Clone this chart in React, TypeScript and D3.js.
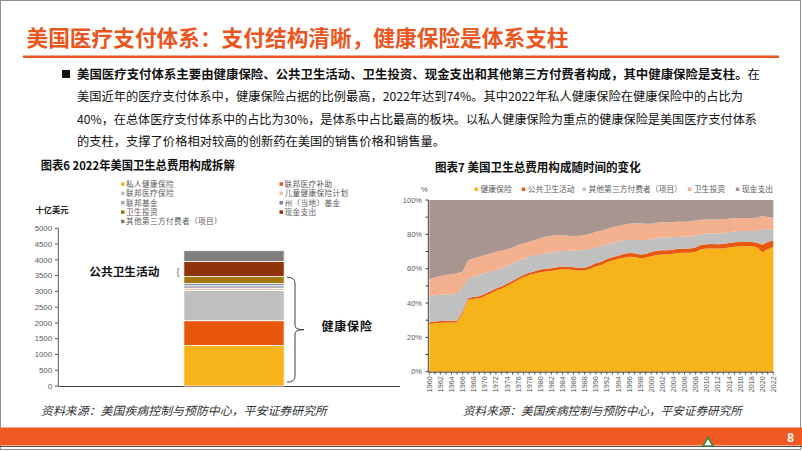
import React from 'react';
import * as d3 from 'd3';

// ---------- Left chart data (billion USD, 2022) ----------
const barCategory = ['2022'];
const barSeries = ['私人健康保险', '联邦医疗补助', '联邦医疗保险', '儿童健康保险计划', '联邦基金', '州（当地）基金', '卫生投资', '现金支出', '其他第三方付费者（项目）'];
const barValues = [1280, 790, 960, 70, 80, 65, 225, 475, 345];
const barColors = ['#F6B31A', '#E8560C', '#BFBFBF', '#F2C2A6', '#A9A6B4', '#6E86A6', '#A5780C', '#8E330A', '#7F7F7F'];
const barYTicks = [0, 500, 1000, 1500, 2000, 2500, 3000, 3500, 4000, 4500, 5000];

// ---------- Right chart data (cumulative share, %) ----------
const years = d3.range(1960, 2023);
const healthInsTop = [
  27.6, 28.2, 28.5, 28.7, 28.7, 28.7, 34.0, 41.7, 42.5, 42.7,
  44.1, 45.6, 47.2, 48.3, 49.9, 51.7, 53.4, 55.1, 56.3, 57.1,
  57.9, 58.3, 58.6, 59.2, 59.6, 59.6, 59.2, 59.0, 59.0, 60.0,
  61.2, 62.1, 63.7, 64.7, 65.6, 66.4, 67.0, 66.8, 66.0, 66.4,
  67.2, 68.0, 68.3, 68.3, 68.7, 69.1, 69.3, 69.3, 69.9, 71.3,
  71.7, 71.8, 71.7, 71.8, 72.4, 72.8, 73.0, 73.0, 73.0, 72.6,
  69.5, 71.3, 72.6,
];
const publicHealthTop = [
  28.6, 29.2, 29.5, 29.7, 29.7, 29.7, 35.0, 42.8, 43.7, 43.9,
  45.4, 46.9, 48.5, 49.6, 51.2, 53.0, 54.7, 56.4, 57.6, 58.5,
  59.5, 59.9, 60.2, 60.8, 61.2, 61.2, 60.8, 60.6, 60.6, 61.6,
  63.1, 64.0, 65.6, 66.6, 67.5, 68.6, 69.2, 69.0, 68.2, 68.6,
  69.7, 70.5, 70.8, 70.8, 71.2, 71.6, 71.8, 71.8, 72.4, 73.9,
  74.3, 74.4, 74.3, 74.4, 75.0, 75.4, 75.6, 75.6, 75.6, 75.2,
  74.0, 75.5, 76.4,
];
const otherThirdTop = [
  44.1, 44.5, 44.8, 45.0, 45.1, 45.2, 49.5, 54.4, 55.3, 56.3,
  57.3, 58.3, 59.2, 60.2, 61.6, 63.1, 64.5, 65.8, 67.0, 67.8,
  68.3, 68.9, 69.5, 70.1, 70.3, 70.5, 70.5, 70.7, 70.9, 71.5,
  72.4, 73.2, 74.2, 75.1, 75.9, 76.5, 76.7, 76.7, 76.5, 76.7,
  77.1, 77.7, 78.1, 78.3, 78.4, 78.6, 78.6, 78.8, 79.2, 80.0,
  80.4, 80.6, 80.6, 80.6, 81.2, 81.6, 81.9, 81.9, 81.9, 82.1,
  83.1, 82.9, 82.5,
];
const investmentTop = [
  53.8, 55.0, 55.7, 56.3, 56.7, 57.3, 58.3, 65.0, 66.0, 67.0,
  68.0, 68.9, 69.9, 70.5, 71.3, 72.4, 73.8, 74.8, 75.7, 76.7,
  77.7, 78.6, 79.2, 79.4, 79.4, 79.2, 79.0, 79.2, 79.6, 80.4,
  81.4, 82.1, 83.1, 84.1, 84.9, 85.6, 86.2, 86.4, 86.4, 86.2,
  86.2, 86.8, 87.0, 87.0, 87.2, 87.4, 87.4, 87.6, 88.0, 88.5,
  88.7, 88.7, 88.7, 88.9, 89.1, 89.3, 89.3, 89.5, 89.5, 89.7,
  90.7, 90.1, 89.7,
];
const cashTop = years.map(() => 100);
const areaSeries = ['健康保险', '公共卫生活动', '其他第三方付费者（项目）', '卫生投资', '现金支出'];
const areaColors = ['#F6B31A', '#E8580E', '#C0C0C0', '#F2B08E', '#A8958F'];
const areaTops = [healthInsTop, publicHealthTop, otherThirdTop, investmentTop, cashTop];
const pctTicks = [0, 10, 20, 30, 40, 50, 60, 70, 80, 90, 100];

const CJK = '"Noto Sans CJK SC", "Noto Sans", sans-serif';
const LAT = '"Liberation Sans", Arial, sans-serif';
const ORANGE = '#E9561E';

const bodyLines = [
  { parts: [{ t: '美国医疗支付体系主要由健康保险、公共卫生活动、卫生投资、现金支出和其他第三方付费者构成，其中健康保险是支柱。', b: true }, { t: '在', b: false }], w: 683 },
  { parts: [{ t: '美国近年的医疗支付体系中，健康保险占据的比例最高，2022年达到74%。其中2022年私人健康保险在健康保险中的占比为', b: false }], w: 666 },
  { parts: [{ t: '40%，在总体医疗支付体系中的占比为30%，是体系中占比最高的板块。以私人健康保险为重点的健康保险是美国医疗支付体系', b: false }], w: 680 },
  { parts: [{ t: '的支柱，支撑了价格相对较高的创新药在美国的销售价格和销售量。', b: false }], w: 368 },
];

export default function App() {
  // left chart scales
  const yL = d3.scaleLinear().domain([0, 5000]).range([386, 228.3]);
  const xL = d3.scaleBand().domain(barCategory).range([68, 400]).paddingOuter(1.155).paddingInner(0);
  const stackedBar = barValues.map((v, i) => {
    const y0 = d3.sum(barValues.slice(0, i));
    return { y0, y1: y0 + v, color: barColors[i], name: barSeries[i] };
  });
  const bx = xL('2022') as number;
  const bw = xL.bandwidth();

  // right chart scales
  const xR = d3.scaleLinear().domain([1960, 2022]).range([429.3, 773.3]);
  const yR = d3.scaleLinear().domain([0, 100]).range([371.7, 200]);
  const areas = areaTops.map((tops, i) => {
    const bottoms = i === 0 ? years.map(() => 0) : areaTops[i - 1];
    const gen = d3.area<number>()
      .x((_, j) => xR(years[j]))
      .y0((_, j) => yR(bottoms[j]))
      .y1((_, j) => yR(tops[j]));
    return gen(tops) as string;
  });

  const legendLeft = [
    { i: 0, col: 0, row: 0 }, { i: 1, col: 1, row: 0 },
    { i: 2, col: 0, row: 1 }, { i: 3, col: 1, row: 1 },
    { i: 4, col: 0, row: 2 }, { i: 5, col: 1, row: 2 },
    { i: 6, col: 0, row: 3 }, { i: 7, col: 1, row: 3 },
    { i: 8, col: 0, row: 4 },
  ];
  const legendRightX = [476, 523.3, 584, 689.3, 737.3];

  // bracket for 健康保险
  const bTop = yL(3450);
  const bBot = yL(120);
  const bMid = (bTop + bBot) / 2;
  const bracketPath = `M287,${bTop} Q295,${bTop} 295,${bTop + 6} L295,${bMid - 4} Q295,${bMid} 304,${bMid} Q295,${bMid} 295,${bMid + 4} L295,${bBot - 6} Q295,${bBot} 287,${bBot}`;

  const textX = 77;

  return (
    <svg width={802} height={451} style={{ position: 'fixed', left: 0, top: 0, background: '#fff' }} xmlns="http://www.w3.org/2000/svg">
      <rect x={0} y={0} width={802} height={451} fill="#fff" />
      <rect x={0.5} y={0.5} width={800} height={449} fill="none" stroke="#8f8f8f" strokeWidth={1} />

      {/* Title */}
      <text x={26.5} y={46} fontFamily={CJK} fontSize={21.5} fontWeight={700} fill={ORANGE} textLength={542} lengthAdjust="spacingAndGlyphs">
        美国医疗支付体系：支付结构清晰，健康保险是体系支柱
      </text>
      <rect x={23} y={55.5} width={756} height={2.5} fill={ORANGE} />

      {/* Body text */}
      <rect x={62} y={70} width={8} height={8} fill="#111" />
      {bodyLines.map((ln, k) => (
        <text key={k} x={textX} y={79 + k * 22.3} fontFamily={CJK} fontSize={12.2} fill="#111" textLength={ln.w} lengthAdjust="spacingAndGlyphs">
          {ln.parts.map((p, j) => (
            <tspan key={j} fontWeight={p.b ? 700 : 400}>{p.t}</tspan>
          ))}
        </text>
      ))}

      {/* Left chart title */}
      <text x={40.7} y={170} fontFamily={CJK} fontSize={12} fontWeight={700} fill="#111" textLength={194} lengthAdjust="spacingAndGlyphs">
        图表6 2022年美国卫生总费用构成拆解
      </text>

      {/* Left legend */}
      {legendLeft.map(({ i, col, row }) => {
        const lx = col === 0 ? 121 : 279.5;
        const ly = 184.3 + row * 9.35;
        return (
          <g key={i}>
            <rect x={lx} y={ly - 2} width={3.5} height={3.5} fill={barColors[i]} />
            <text x={lx + 5} y={ly + 2.7} fontFamily={CJK} fontSize={7.6} letterSpacing={0.4} fill="#595959">{barSeries[i]}</text>
          </g>
        );
      })}
      <text x={35.5} y={212.5} fontFamily={CJK} fontSize={8.5} fontWeight={700} fill="#222" textLength={33} lengthAdjust="spacingAndGlyphs">十亿美元</text>

      {/* Left axes */}
      <line x1={58.3} x2={58.3} y1={yL(5000)} y2={yL(0)} stroke="#595959" strokeWidth={1} />
      <line x1={58.3} x2={400} y1={yL(0) + 0.5} y2={yL(0) + 0.5} stroke="#404040" strokeWidth={1} />
      {barYTicks.map((t) => (
        <g key={t}>
          <line x1={55} x2={58.3} y1={yL(t)} y2={yL(t)} stroke="#595959" strokeWidth={1} />
          <text x={52} y={yL(t) + 2.8} textAnchor="end" fontFamily={LAT} fontSize={7.8} fill="#595959">{t}</text>
        </g>
      ))}

      {/* Stacked bar */}
      {stackedBar.map((s, i) => (
        <rect key={i} x={bx} width={bw} y={yL(s.y1)} height={yL(s.y0) - yL(s.y1)} fill={s.color} stroke="#fff" strokeWidth={0.8} />
      ))}

      {/* Annotations */}
      <path d={bracketPath} fill="none" stroke="#404040" strokeWidth={1} />
      <text x={321.5} y={331} fontFamily={CJK} fontSize={12} fontWeight={700} fill="#111" letterSpacing={0.8}>健康保险</text>
      <text x={89.3} y={276} fontFamily={CJK} fontSize={11.5} fontWeight={700} fill="#111" textLength={70} lengthAdjust="spacingAndGlyphs">公共卫生活动</text>
      <text x={176.5} y={274.5} fontFamily={LAT} fontSize={9} fill="#595959">{'{'}</text>

      {/* Right chart title */}
      <text x={435} y={171.5} fontFamily={CJK} fontSize={12} fontWeight={700} fill="#111" textLength={205.7} lengthAdjust="spacingAndGlyphs">
        图表7 美国卫生总费用构成随时间的变化
      </text>

      {/* Right legend */}
      <text x={424.3} y={192} textAnchor="middle" fontFamily={LAT} fontSize={7.5} fill="#595959">%</text>
      {areaSeries.map((s, i) => (
        <g key={s}>
          <rect x={legendRightX[i] - 1.5} y={187.5} width={3.5} height={3.5} fill={areaColors[i]} />
          <text x={legendRightX[i] + 4.5} y={192} fontFamily={CJK} fontSize={7.8} fill="#595959">{s}</text>
        </g>
      ))}

      {/* Areas */}
      {areas.map((d, i) => (
        <path key={i} d={d} fill={areaColors[i]} stroke="none" />
      ))}

      {/* Right axes */}
      <line x1={428.3} x2={428.3} y1={yR(100)} y2={yR(0)} stroke="#404040" strokeWidth={1} />
      <line x1={428.3} x2={xR(2022)} y1={yR(0) + 0.5} y2={yR(0) + 0.5} stroke="#404040" strokeWidth={1} />
      {pctTicks.map((t) => (
        <g key={t}>
          <line x1={425.5} x2={428.3} y1={yR(t)} y2={yR(t)} stroke="#404040" strokeWidth={1} />
          {t % 20 === 0 && (
            <text x={422} y={yR(t) + 2.7} textAnchor="end" fontFamily={LAT} fontSize={7.5} fill="#595959">{t + '%'}</text>
          )}
        </g>
      ))}
      {years.map((yr) => (
        <g key={yr}>
          <line x1={xR(yr)} x2={xR(yr)} y1={yR(0)} y2={yR(0) + 3} stroke="#404040" strokeWidth={0.8} />
          {yr % 2 === 0 && (
            <text transform={`translate(${xR(yr) + 2.6},${yR(0) + 4.5}) rotate(-90)`} textAnchor="end" fontFamily={LAT} fontSize={7.2} fill="#595959">{yr}</text>
          )}
        </g>
      ))}

      {/* Sources */}
      <text x={41} y={415} fontFamily={CJK} fontSize={11.5} fontStyle="italic" fill="#333" textLength={286} lengthAdjust="spacingAndGlyphs">资料来源：美国疾病控制与预防中心，平安证券研究所</text>
      <text x={463} y={415} fontFamily={CJK} fontSize={11.5} fontStyle="italic" fill="#333" textLength={279} lengthAdjust="spacingAndGlyphs">资料来源：美国疾病控制与预防中心，平安证券研究所</text>

      {/* Footer band */}
      <rect x={0} y={427.5} width={802} height={18} fill="#F05A22" />
      <line x1={0} x2={802} y1={446.5} y2={446.5} stroke="#555" strokeWidth={1} />
      <text x={794} y={442} textAnchor="end" fontFamily={LAT} fontSize={12} fontWeight={700} fill="#fff">8</text>
      <path d="M703,446 L708,437.5 L713,446 Z" fill="#fff" stroke="#2E8B3E" strokeWidth={1.5} />
    </svg>
  );
}
